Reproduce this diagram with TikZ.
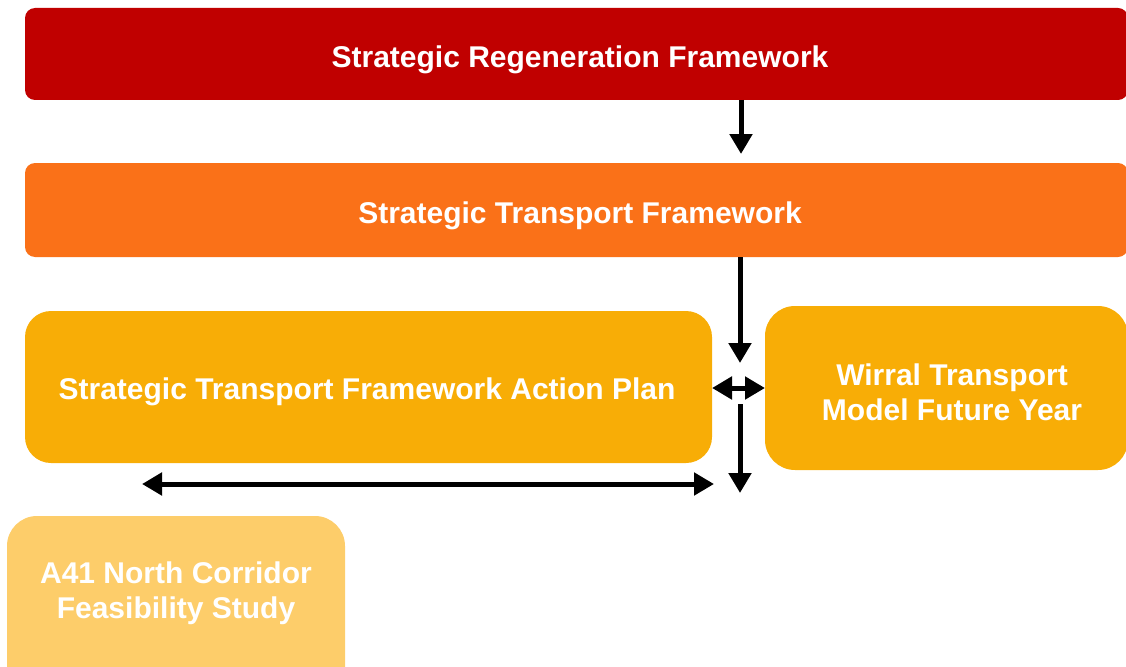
\documentclass[tikz,border=0pt]{standalone}
\usepackage{fontspec}
\setmainfont{Liberation Sans}
\usetikzlibrary{arrows.meta}
\definecolor{cred}{HTML}{C00000}
\definecolor{corange}{HTML}{FA7118}
\definecolor{camber}{HTML}{F8AD06}
\definecolor{clight}{HTML}{FDCD6A}
\begin{document}
\begin{tikzpicture}[x=1pt,y=-1pt,
  box/.style={inner sep=0pt, text=white, font=\fontsize{30}{35}\selectfont\bfseries, align=center},
  conn/.style={line width=5pt, -{Triangle[length=20pt,width=22pt]}},
  dconn/.style={line width=5pt, {Triangle[length=20pt,width=22pt]}-{Triangle[length=20pt,width=22pt]}}]
\useasboundingbox (0,0) rectangle (1126,666);
\begin{scope}
\clip (0,0) rectangle (1126,666);
\fill[cred, rounded corners=10pt] (25,8) rectangle (1128,100);
\fill[corange, rounded corners=10pt] (25,163) rectangle (1128,257);
\fill[camber, rounded corners=26pt] (25,311) rectangle (712,463);
\fill[camber, rounded corners=30pt] (765,306) rectangle (1128,470);
\fill[clight, rounded corners=30pt] (7,516) rectangle (345,700);
\end{scope}
\node[box] (srf) at (580,60) {Strategic Regeneration Framework};
\node[box] (stf) at (580,216) {Strategic Transport Framework};
\node[box] (ap) at (367,392) {Strategic Transport Framework Action Plan};
\node[box] (wt) at (952,392) {Wirral Transport\\Model Future Year};
\node[box] (a41) at (176,593) {A41 North Corridor\\Feasibility Study};
\coordinate (a1s) at (741,100);
\coordinate (a1e) at (741,154);
\coordinate (a2s) at (740,257);
\coordinate (a2e) at (740,363);
\coordinate (hl) at (712,388);
\coordinate (hr) at (765,388);
\coordinate (a3s) at (740,404);
\coordinate (a3e) at (740,493);
\coordinate (bl) at (142,484);
\coordinate (br) at (714,484);
\draw[conn] (a1s) -- (a1e);
\draw[conn] (a2s) -- (a2e);
\draw[dconn] (hl) -- (hr);
\draw[conn] (a3s) -- (a3e);
\draw[dconn] (bl) -- (br);
\end{tikzpicture}
\end{document}
